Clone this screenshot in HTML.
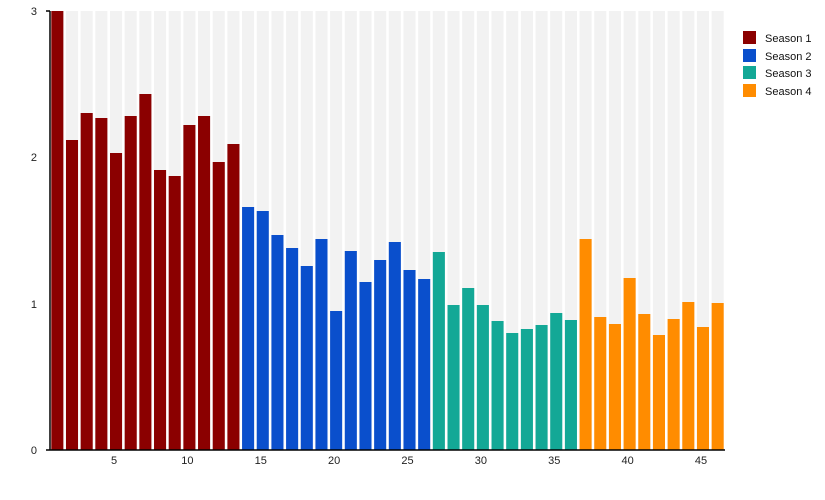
<!DOCTYPE html>
<html><head><meta charset="utf-8"><style>
body{margin:0;background:#fff;}
svg{display:block;font-family:"Liberation Sans",sans-serif;}
</style></head><body>
<svg width="825" height="500" xmlns="http://www.w3.org/2000/svg">
<g id="g"></g>
<line x1="50" y1="11" x2="50" y2="450" stroke="#000" stroke-width="1.5"/>
<line x1="46" y1="11" x2="50" y2="11" stroke="#000" stroke-width="1.5"/>
<line x1="46" y1="450" x2="725" y2="450" stroke="#000" stroke-width="1.5"/>
<g font-size="11" fill="#222" text-anchor="end">
<text x="37" y="15">3</text><text x="37" y="161">2</text><text x="37" y="308">1</text><text x="37" y="454">0</text>
</g>
<g font-size="11" fill="#222" text-anchor="middle" id="xl"></g>
<g font-size="11" fill="#111">
<rect x="743" y="31" width="13" height="13" fill="#8b0000"/><text x="765" y="42">Season 1</text>
<rect x="743" y="49" width="13" height="13" fill="#0a4fcc"/><text x="765" y="60">Season 2</text>
<rect x="743" y="66" width="13" height="13" fill="#13a896"/><text x="765" y="77">Season 3</text>
<rect x="743" y="84" width="13" height="13" fill="#ff8c00"/><text x="765" y="95">Season 4</text>
</g>
</svg>
<script>
var tops=[11,140,113,118,153,116,94,170,176,125,116,162,144,207,211,235,248,266,239,311,251,282,260,242,270,279,252,305,288,305,321,333,329,325,313,320,239,317,324,278,314,335,319,302,327,303];
var g=document.getElementById('g'),s='',ns='http://www.w3.org/2000/svg';
var w=675/46;
for(var i=0;i<46;i++){var x=50+i*w+1.3;
var c=i<13?'#8b0000':i<26?'#0a4fcc':i<36?'#13a896':'#ff8c00';
s+='<rect x="'+x.toFixed(2)+'" y="11" width="'+(w-2.6).toFixed(2)+'" height="439" fill="#f2f2f2"/>';
s+='<rect x="'+x.toFixed(2)+'" y="'+tops[i]+'" width="'+(w-2.6).toFixed(2)+'" height="'+(450-tops[i])+'" fill="'+c+'"/>';}
g.innerHTML=s;
var t='';for(var k=5;k<=45;k+=5){var cx=50+(k-1)*w+w/2-2;t+='<text x="'+cx.toFixed(1)+'" y="464">'+k+'</text>';}
document.getElementById('xl').innerHTML=t;
</script>
</body></html>
